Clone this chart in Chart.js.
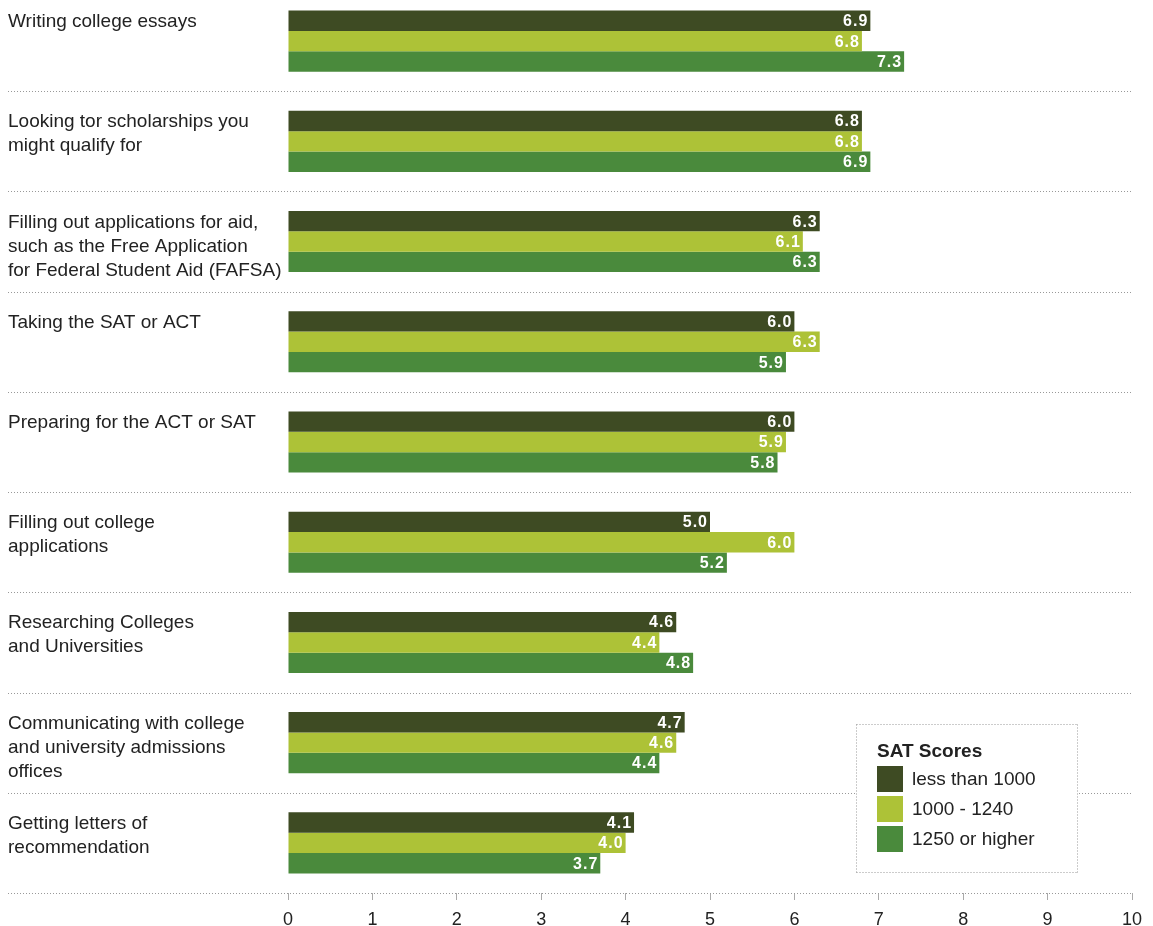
<!DOCTYPE html>
<html lang="en">

<head>
    <meta charset="UTF-8" />
    <title>SAT Scores</title>
    <script src="https://cdn.jsdelivr.net/npm/chart.js"></script>
    <style>
        body {
            margin: 0;
            background: #fff;
        }

        .wrap {
            position: relative;
            width: 1153px;
            height: 926px;
            overflow: hidden;
        }

        /* first band starts a bit above the page edge */
        #satChart {
            position: absolute;
            left: 0;
            top: -9px;
        }
    </style>
</head>

<body>
    <div class="wrap">
        <canvas id="satChart" width="1153" height="935"></canvas>
    </div>

    <script>
        const categories = [
            ['Writing college essays'],
            ['Looking tor scholarships you', 'might qualify for'],
            ['Filling out applications for aid,', 'such as the Free Application', 'for Federal Student Aid (FAFSA)'],
            ['Taking the SAT or ACT'],
            ['Preparing for the ACT or SAT'],
            ['Filling out college', 'applications'],
            ['Researching Colleges', 'and Universities'],
            ['Communicating with college', 'and university admissions', 'offices'],
            ['Getting letters of', 'recommendation']
        ];

        const seriesNames = ['less than 1000', '1000 - 1240', '1250 or higher'];
        const lessThan1000 = [6.9, 6.8, 6.3, 6.0, 6.0, 5.0, 4.6, 4.7, 4.1];
        const from1000to1240 = [6.8, 6.8, 6.1, 6.3, 5.9, 6.0, 4.4, 4.6, 4.0];
        const over1250 = [7.3, 6.9, 6.3, 5.9, 5.8, 5.2, 4.8, 4.4, 3.7];
        const xMin = 0;
        const xMax = 10;
        const legendTitle = 'SAT Scores';

        const colors = ['#3e4b23', '#adc237', '#4a8a3c'];
        const FONT = '"Liberation Sans", Arial, Helvetica, sans-serif';
        const TEXT = '#222';

        function dotted(ctx, x1, y1, x2, y2) {
            ctx.save();
            ctx.strokeStyle = '#999';
            ctx.lineWidth = 1;
            ctx.setLineDash([1, 2]);
            ctx.beginPath();
            ctx.moveTo(x1, y1);
            ctx.lineTo(x2, y2);
            ctx.stroke();
            ctx.restore();
        }

        const decorations = {
            id: 'decorations',
            beforeDatasetsDraw(chart) {
                const ctx = chart.ctx;
                const y = chart.scales.y;
                const area = chart.chartArea;
                const band = (area.bottom - area.top) / categories.length;
                // dotted separators between groups, running under the labels too
                categories.forEach((c, i) => {
                    const py = Math.round(y.getPixelForValue(i) + band / 2) + 0.5;
                    dotted(ctx, 8, py, area.right, py);
                });
            },
            afterDraw(chart) {
                const ctx = chart.ctx;
                const y = chart.scales.y;

                // category labels, top-aligned with each group of bars
                ctx.save();
                ctx.fillStyle = TEXT;
                ctx.font = '19px ' + FONT;
                ctx.textAlign = 'left';
                ctx.textBaseline = 'alphabetic';
                categories.forEach((lines, i) => {
                    const cy = y.getPixelForValue(i);
                    lines.forEach((line, j) => {
                        ctx.fillText(line, 8, cy - 14 + j * 24);
                    });
                });
                ctx.restore();

                // values written inside the bar ends
                ctx.save();
                ctx.fillStyle = '#fff';
                ctx.font = 'bold 16px ' + FONT;
                ctx.letterSpacing = '1px';
                ctx.textAlign = 'right';
                ctx.textBaseline = 'middle';
                chart.data.datasets.forEach((ds, di) => {
                    chart.getDatasetMeta(di).data.forEach((bar, i) => {
                        ctx.fillText(ds.data[i].toFixed(1), bar.x - 2, bar.y + 1);
                    });
                });
                ctx.restore();

                // legend box
                const lx = 856, ly = 733, lw = 221, lh = 148;
                ctx.save();
                ctx.fillStyle = '#fff';
                ctx.fillRect(lx, ly, lw, lh);
                dotted(ctx, lx + 0.5, ly + 0.5, lx + lw + 0.5, ly + 0.5);
                dotted(ctx, lx + lw + 0.5, ly + 0.5, lx + lw + 0.5, ly + lh + 0.5);
                dotted(ctx, lx + 0.5, ly + lh + 0.5, lx + lw + 0.5, ly + lh + 0.5);
                dotted(ctx, lx + 0.5, ly + 0.5, lx + 0.5, ly + lh + 0.5);

                ctx.fillStyle = TEXT;
                ctx.font = 'bold 19px ' + FONT;
                ctx.textAlign = 'left';
                ctx.textBaseline = 'alphabetic';
                ctx.fillText(legendTitle, lx + 21, ly + 33);

                ctx.font = '19px ' + FONT;
                ctx.textBaseline = 'middle';
                chart.data.datasets.forEach((ds, di) => {
                    const sy = ly + 42 + di * 30;
                    ctx.fillStyle = ds.backgroundColor;
                    ctx.fillRect(lx + 21, sy, 26, 26);
                    ctx.fillStyle = TEXT;
                    ctx.fillText(ds.label, lx + 56, sy + 14);
                });
                ctx.restore();
            }
        };

        const seriesData = [lessThan1000, from1000to1240, over1250];

        new Chart(document.getElementById('satChart'), {
            type: 'bar',
            data: {
                labels: categories.map(c => c.join(' ')),
                datasets: seriesNames.map((name, i) => ({
                    label: name,
                    data: seriesData[i],
                    backgroundColor: colors[i],
                    borderWidth: 0,
                    barPercentage: 1,
                    categoryPercentage: 0.61
                }))
            },
            options: {
                indexAxis: 'y',
                responsive: false,
                animation: false,
                devicePixelRatio: 1,
                layout: { padding: { left: 288, right: 21, top: 0, bottom: 0 } },
                plugins: {
                    legend: { display: false },
                    tooltip: { enabled: false }
                },
                scales: {
                    y: { display: false, offset: true },
                    x: {
                        min: xMin,
                        max: xMax,
                        afterFit: (scale) => { scale.height = 33; },
                        border: { display: false },
                        grid: {
                            drawOnChartArea: false,
                            drawTicks: true,
                            tickLength: 7,
                            color: '#aaa'
                        },
                        ticks: {
                            stepSize: 1,
                            padding: 9,
                            color: TEXT,
                            font: { family: FONT, size: 18 }
                        }
                    }
                }
            },
            plugins: [decorations]
        });
    </script>
</body>

</html>
